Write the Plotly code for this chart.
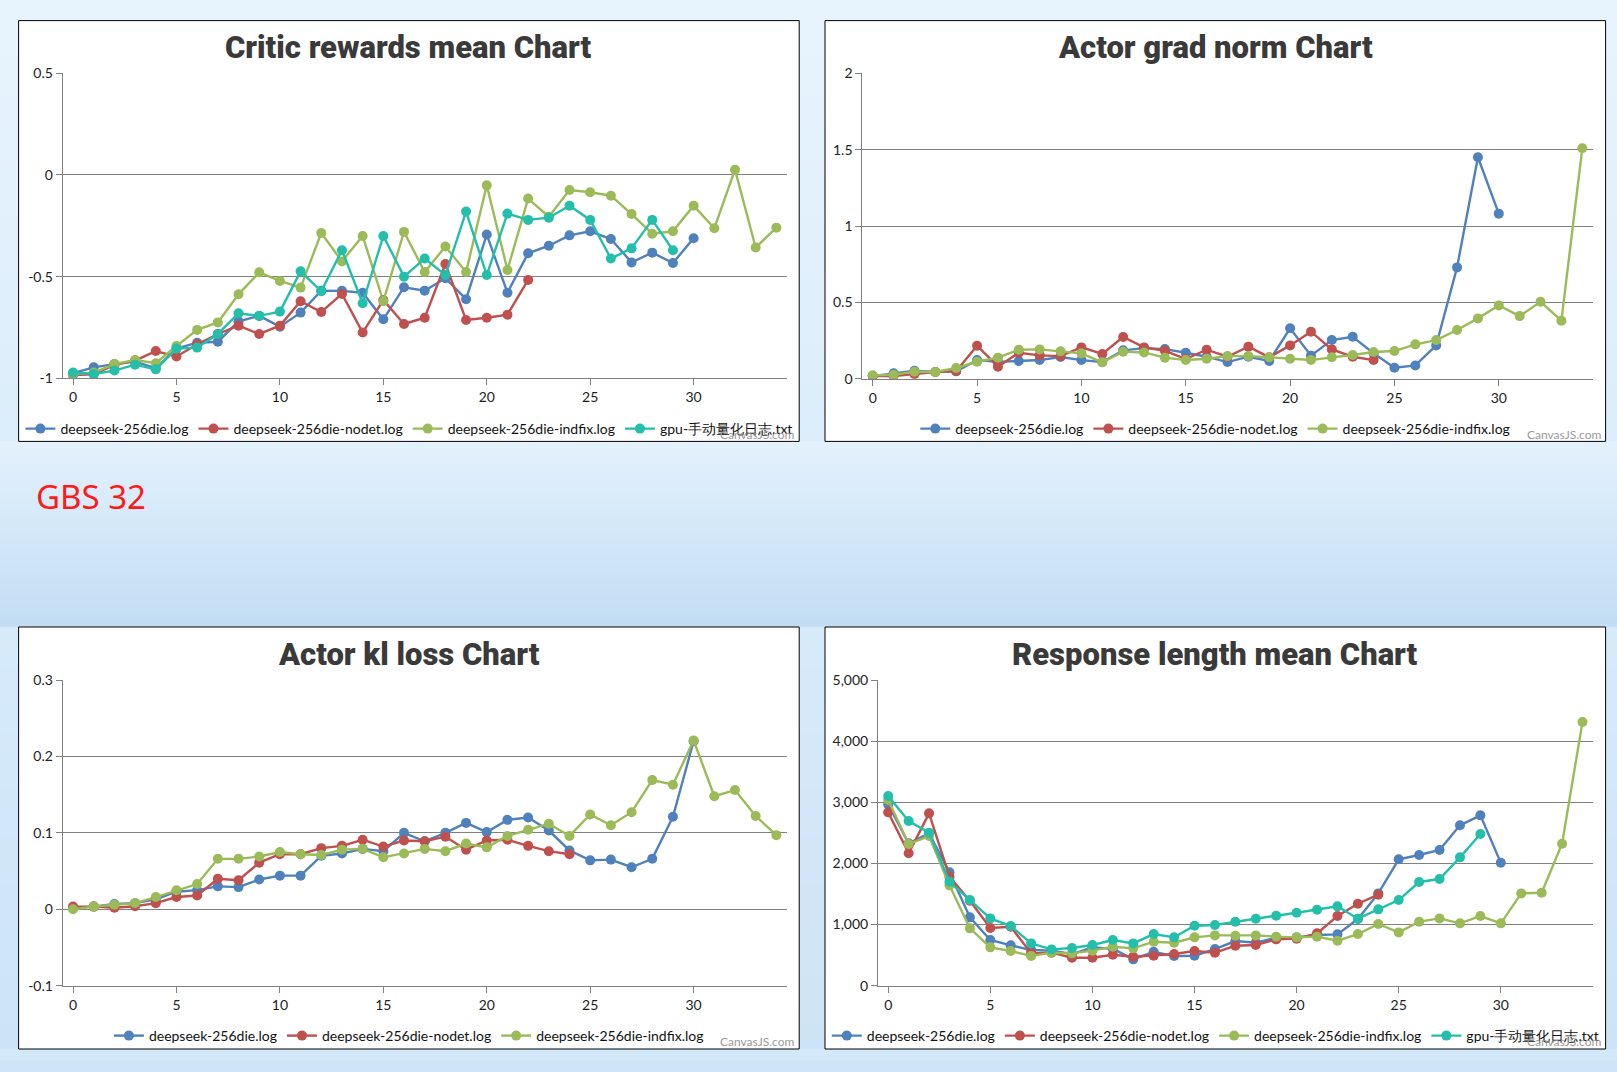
import plotly.graph_objects as go

W, H = 1617, 1072

series_names = ["deepseek-256die.log", "deepseek-256die-nodet.log",
                "deepseek-256die-indfix.log", "gpu-手动量化日志.txt"]
colors = ["#4F81BC", "#C0504E", "#9BBB58", "#23BFAA"]

chart_titles = ["Critic rewards mean Chart", "Actor grad norm Chart",
                "Actor kl loss Chart", "Response length mean Chart"]

x_ticks = [0, 5, 10, 15, 20, 25, 30]
x_tick_labels = ["0", "5", "10", "15", "20", "25", "30"]

critic_y_ticks = [-1, -0.5, 0, 0.5]
critic_y_labels = ["-1", "-0.5", "0", "0.5"]
grad_y_ticks = [0, 0.5, 1, 1.5, 2]
grad_y_labels = ["0", "0.5", "1", "1.5", "2"]
kl_y_ticks = [-0.1, 0, 0.1, 0.2, 0.3]
kl_y_labels = ["-0.1", "0", "0.1", "0.2", "0.3"]
resp_y_ticks = [0, 1000, 2000, 3000, 4000, 5000]
resp_y_labels = ["0", "1,000", "2,000", "3,000", "4,000", "5,000"]

# ---- Critic rewards mean ----
critic_base = [-0.975, -0.946, -0.93, -0.918, -0.95, -0.854, -0.825, -0.82, -0.72, -0.693,
               -0.746, -0.677, -0.569, -0.57, -0.579, -0.71, -0.552, -0.569, -0.508, -0.611,
               -0.293, -0.579, -0.385, -0.348, -0.297, -0.277, -0.315, -0.43, -0.382, -0.433,
               -0.311]
critic_nodet = [-0.984, -0.98, -0.934, -0.913, -0.866, -0.893, -0.833, -0.782, -0.741, -0.782,
                -0.741, -0.621, -0.674, -0.585, -0.775, -0.615, -0.733, -0.702, -0.438, -0.713,
                -0.702, -0.687, -0.516]
critic_indfix = [-0.979, -0.972, -0.93, -0.91, -0.926, -0.841, -0.762, -0.725, -0.587, -0.479,
                 -0.521, -0.554, -0.285, -0.425, -0.30, -0.621, -0.280, -0.477, -0.352, -0.477,
                 -0.051, -0.467, -0.116, -0.205, -0.074, -0.085, -0.102, -0.192, -0.289, -0.277,
                 -0.151, -0.262, 0.026, -0.357, -0.259]
critic_gpu = [-0.972, -0.979, -0.962, -0.933, -0.956, -0.854, -0.849, -0.782, -0.680, -0.693,
              -0.672, -0.474, -0.572, -0.370, -0.631, -0.30, -0.50, -0.411, -0.492, -0.180,
              -0.492, -0.190, -0.221, -0.210, -0.151, -0.221, -0.411, -0.361, -0.221, -0.370]

# ---- Actor grad norm ----
grad_base = [0.017, 0.035, 0.052, 0.044, 0.048, 0.122, 0.11, 0.116, 0.122, 0.142,
             0.122, 0.109, 0.186, 0.20, 0.194, 0.17, 0.144, 0.109, 0.144, 0.116,
             0.33, 0.151, 0.253, 0.275, 0.166, 0.072, 0.087, 0.218, 0.729, 1.45, 1.081]
grad_nodet = [0.017, 0.017, 0.03, 0.044, 0.05, 0.216, 0.079, 0.17, 0.153, 0.148,
              0.205, 0.162, 0.273, 0.205, 0.183, 0.129, 0.19, 0.144, 0.21, 0.14,
              0.218, 0.308, 0.192, 0.144, 0.122]
grad_indfix = [0.022, 0.026, 0.046, 0.044, 0.07, 0.111, 0.138, 0.19, 0.192, 0.179,
               0.166, 0.107, 0.177, 0.172, 0.138, 0.122, 0.131, 0.148, 0.148, 0.14,
               0.131, 0.122, 0.14, 0.155, 0.175, 0.181, 0.225, 0.253, 0.319, 0.395,
               0.48, 0.41, 0.504, 0.38, 1.509]

# ---- Actor kl loss ----
kl_base = [0.002, 0.0035, 0.007, 0.008, 0.013, 0.023, 0.025, 0.030, 0.029, 0.039,
           0.044, 0.044, 0.070, 0.073, 0.079, 0.076, 0.10, 0.089, 0.10, 0.113,
           0.101, 0.117, 0.12, 0.103, 0.077, 0.064, 0.065, 0.055, 0.066, 0.121, 0.22]
kl_nodet = [0.0035, 0.0035, 0.002, 0.004, 0.008, 0.016, 0.018, 0.040, 0.038, 0.061,
            0.072, 0.072, 0.080, 0.083, 0.091, 0.082, 0.09, 0.089, 0.095, 0.078,
            0.09, 0.091, 0.083, 0.076, 0.072]
kl_indfix = [0.0, 0.0035, 0.006, 0.008, 0.016, 0.025, 0.033, 0.066, 0.066, 0.069,
             0.075, 0.072, 0.071, 0.078, 0.079, 0.068, 0.073, 0.079, 0.076, 0.086,
             0.081, 0.096, 0.104, 0.112, 0.096, 0.124, 0.11, 0.127, 0.169, 0.163,
             0.221, 0.148, 0.156, 0.122, 0.097]

# ---- Response length mean ----
resp_base = [2966, 2328, 2492, 1854, 1118, 747, 660, 583, 573, 518,
             627, 605, 431, 556, 485, 491, 600, 731, 703, 785,
             790, 829, 840, 1090, 1510, 2067, 2137, 2219, 2623, 2786, 2012]
resp_nodet = [2835, 2165, 2819, 1783, 1390, 943, 965, 529, 540, 458,
              458, 507, 474, 491, 518, 567, 540, 654, 665, 758,
              769, 856, 1140, 1341, 1489]
resp_indfix = [3037, 2317, 2448, 1641, 938, 627, 567, 485, 540, 529,
               573, 638, 611, 720, 703, 791, 823, 818, 823, 802,
               791, 802, 736, 845, 1009, 872, 1047, 1101, 1020, 1140,
               1020, 1510, 1521, 2323, 4313]
resp_gpu = [3102, 2694, 2503, 1701, 1401, 1101, 976, 692, 594, 616,
            665, 747, 692, 845, 791, 981, 992, 1047, 1096, 1145,
            1194, 1243, 1298, 1096, 1249, 1401, 1696, 1745, 2099, 2481]

side_note = "GBS 32"
watermark = "CanvasJS.com"

charts = [
    ([critic_base, critic_nodet, critic_indfix, critic_gpu], critic_y_ticks, critic_y_labels, [-1, 0.5]),
    ([grad_base, grad_nodet, grad_indfix], grad_y_ticks, grad_y_labels, [0, 2]),
    ([kl_base, kl_nodet, kl_indfix], kl_y_ticks, kl_y_labels, [-0.1, 0.3]),
    ([resp_base, resp_nodet, resp_indfix, resp_gpu], resp_y_ticks, resp_y_labels, [0, 5000]),
]

plot_px = [(62.7, 786.7, 73.3, 378.3), (862.3, 1592.7, 73.3, 378.7),
           (62.7, 786.7, 680.0, 985.7), (878.0, 1592.7, 680.0, 985.7)]
panel_px = [(18.6, 799.2, 20.6, 441.4), (825.0, 1605.6, 20.6, 441.4),
            (18.6, 799.2, 627.0, 1049.0), (825.0, 1605.6, 627.0, 1049.0)]
title_y_px = [47.0, 47.0, 654.5, 654.5]
legend_y_px = [429, 429, 1036, 1036]
wm_y_px = [434, 434, 1041, 1041]

def px_x(v):
    return v / W

def px_y(v):
    return 1 - v / H

def mix(c1, c2, f):
    a = [int(c1[i:i + 2], 16) for i in (1, 3, 5)]
    b = [int(c2[i:i + 2], 16) for i in (1, 3, 5)]
    return "#" + "".join(f"{round(a[k] + (b[k] - a[k]) * f):02x}" for k in range(3))

label_font = dict(family="Lato, 'Open Sans', sans-serif", size=14, color="#222222")
title_font = dict(family="Roboto, sans-serif", size=31, color="#3a3a3a", weight=900)

fig = go.Figure()
layout = dict(width=W, height=H, margin=dict(l=0, r=0, t=0, b=0, autoexpand=False), autosize=False,
              paper_bgcolor="#dbecfa", plot_bgcolor="rgba(0,0,0,0)", showlegend=True)
shapes = []
annotations = []

# soft vertical background gradient (decoration only)
bands = [(0, 441, "#e8f4fd", "#dcedfb"), (441, 627, "#e3f1fc", "#c3ddf4"),
         (627, 1049, "#d6eafa", "#cde4f7"), (1049, 1072, "#d3e8f8", "#cfe5f7")]
for (y0, y1, c0, c1) in bands:
    steps = max(1, int((y1 - y0) / 8))
    for s in range(steps):
        ya0 = y0 + (y1 - y0) * s / steps
        ya1 = y0 + (y1 - y0) * (s + 1) / steps
        shapes.append(dict(type="rect", xref="paper", yref="paper", x0=0, x1=1,
                           y0=px_y(ya1 + 0.5), y1=px_y(ya0), fillcolor=mix(c0, c1, s / max(1, steps - 1)),
                           line=dict(width=0), layer="below"))

for ci, (data, yt, yl, yr) in enumerate(charts):
    n = ci + 1
    xa = "xaxis" if n == 1 else f"xaxis{n}"
    ya = "yaxis" if n == 1 else f"yaxis{n}"
    xref = "x" if n == 1 else f"x{n}"
    yref = "y" if n == 1 else f"y{n}"
    leg = "legend" if n == 1 else f"legend{n}"
    l, r, t, b = plot_px[ci]
    layout[xa] = dict(domain=[px_x(l), px_x(r)], range=[-0.5, 34.5], anchor=yref,
                      tickvals=x_ticks, ticktext=x_tick_labels, showgrid=False, zeroline=False,
                      showline=True, linecolor="#808080", linewidth=1, ticks="outside",
                      ticklen=6, tickcolor="#808080", tickfont=label_font, automargin=False)
    layout[ya] = dict(domain=[px_y(b), px_y(t)], range=yr, anchor=xref,
                      tickvals=yt, ticktext=yl, showgrid=True, gridcolor="#808080", gridwidth=1,
                      zeroline=False, showline=True, linecolor="#808080", linewidth=1,
                      ticks="outside", ticklen=6, tickcolor="#808080", tickfont=label_font,
                      automargin=False)
    for si, ys in enumerate(data):
        fig.add_trace(go.Scatter(x=list(range(len(ys))), y=ys, mode="lines+markers",
                                 name=series_names[si], xaxis=xref, yaxis=yref, legend=leg,
                                 line=dict(color=colors[si], width=2.4),
                                 marker=dict(color=colors[si], size=10)))
    pl, pr, pt, pb = panel_px[ci]
    shapes.append(dict(type="rect", xref="paper", yref="paper", x0=px_x(pl), x1=px_x(pr),
                       y0=px_y(pb), y1=px_y(pt), fillcolor="white",
                       line=dict(color="black", width=1), layer="below"))
    cx = (pl + pr) / 2
    annotations.append(dict(text=chart_titles[ci], xref="paper", yref="paper", x=px_x(cx),
                            y=px_y(title_y_px[ci]), xanchor="center", yanchor="middle",
                            showarrow=False, font=title_font))
    annotations.append(dict(text=watermark, xref="paper", yref="paper", x=px_x(pr - 2),
                            y=px_y(wm_y_px[ci]), xanchor="right", yanchor="middle",
                            showarrow=False, font=dict(family="Lato, sans-serif", size=12, color="#9a9a9a")))
    layout[leg] = dict(orientation="h", x=px_x(cx), xanchor="center", y=px_y(legend_y_px[ci]),
                       yanchor="middle", bgcolor="rgba(0,0,0,0)", itemwidth=30,
                       font=dict(family="Lato, 'Open Sans', sans-serif", size=14, color="#111111"),
                       tracegroupgap=0)

annotations.append(dict(text=side_note, xref="paper", yref="paper", x=px_x(34), y=px_y(496),
                        xanchor="left", yanchor="middle", showarrow=False,
                        font=dict(family="'Noto Sans', 'Open Sans', sans-serif", size=33, color="#ff1a1a")))

layout["shapes"] = shapes
layout["annotations"] = annotations
fig.update_layout(**layout)
fig.write_html("out.html")
